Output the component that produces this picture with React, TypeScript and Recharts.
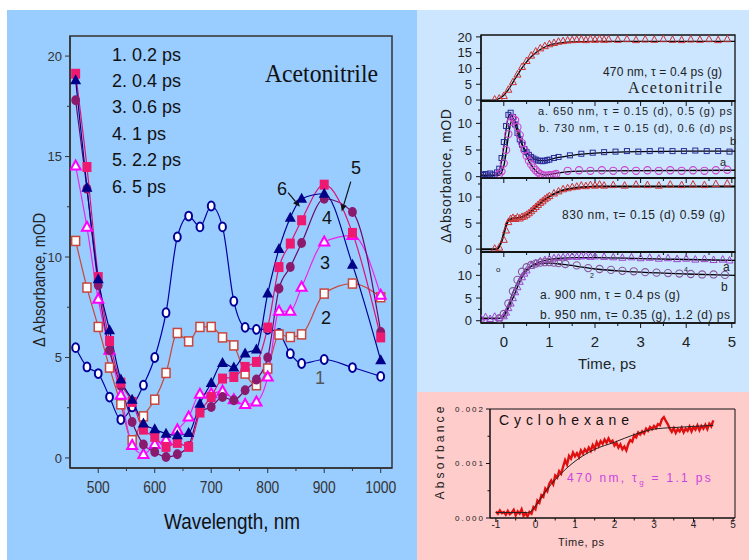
import React from 'react';
import { LineChart, Line, XAxis, YAxis, ReferenceArea, ReferenceLine } from 'recharts';

const SANS = "'Liberation Sans', Arial, Helvetica, sans-serif";
const SERIF = "'Liberation Serif', 'Times New Roman', serif";

// ---------- Left panel: transient spectra in acetonitrile ----------
const wavelengths = [460, 480, 500, 520, 540, 560, 580, 600, 620, 640, 660, 680, 700, 720, 740, 760, 780, 800, 820, 840, 860, 900, 950, 1000];
const abs02 = [5.49, 4.53, 4.2, 3.03, 1.91, 2.54, 3.62, 5.0, 7.23, 11.0, 12.04, 11.5, 12.54, 11.5, 7.8, 6.5, 6.4, 6.4, 6.2, 5.19, 4.7, 4.9, 4.5, 4.06];
const abs04 = [10.8, 8.48, 6.52, 4.5, 2.67, 0.88, 2.07, 2.9, 4.23, 6.22, 5.8, 6.52, 6.52, 6.0, 5.6, 4.2, 3.62, 4.45, 6.14, 6.02, 6.15, 8.18, 8.68, 8.0];
const abs06 = [14.53, 11.49, 7.9, 5.36, 3.12, 0.63, 0.18, 0.67, 0.9, 1.4, 2.04, 3.17, 3.2, 3.33, 2.9, 2.67, 2.79, 4.03, 7.3, 7.3, 8.5, 10.75, 11.08, 8.1];
const abs1 = [17.8, 13.4, 8.6, 5.36, 3.6, 1.79, 0.67, 0.3, 0.05, 0.18, 0.6, 2.3, 2.54, 3.03, 2.87, 3.37, 3.9, 5.0, 8.43, 9.5, 10.7, 12.9, 12.24, 6.27];
const abs22 = [19.12, 14.48, 9.0, 5.82, 3.75, 2.79, 1.41, 1.05, 0.55, 0.75, 0.55, 2.26, 3.03, 3.95, 4.03, 4.53, 4.78, 6.49, 9.5, 10.67, 11.83, 13.6, 11.2, 6.0];
const abs5 = [18.8, 13.45, 8.9, 6.35, 3.9, 2.9, 1.71, 1.43, 1.21, 1.13, 1.24, 2.7, 3.73, 4.73, 4.5, 5.2, 5.4, 8.18, 10.4, 11.96, 12.9, 13.15, 9.62, 4.86];
const legendLabels = ['1. 0.2 ps', '2. 0.4 ps', '3. 0.6 ps', '4. 1 ps', '5. 2.2 ps', '6. 5 ps'];
const leftXTicks = [500, 550, 600, 650, 700, 750, 800, 850, 900, 950, 1000];
const leftYTicks = [0, 2.5, 5, 7.5, 10, 12.5, 15, 17.5, 20];

// ---------- Right top: kinetics in acetonitrile ----------
const t470 = [-0.2, -0.1, 0, 0.1, 0.2, 0.3, 0.4, 0.5, 0.6, 0.7, 0.8, 0.9, 1.0, 1.1, 1.2, 1.3, 1.4, 1.5, 1.6, 1.7, 1.8, 1.9, 2.0, 2.1, 2.2, 2.3, 2.5, 2.7, 2.9, 3.1, 3.3, 3.5, 3.7, 3.9, 4.1, 4.3, 4.5, 4.7, 4.9];
const v470 = [0.2, 0.5, 1.3, 3.3, 5.7, 8.1, 10.5, 12.4, 14.1, 15.4, 16.4, 17.1, 17.7, 18.1, 18.5, 18.7, 18.9, 19.0, 19.1, 19.2, 19.0, 19.3, 19.1, 19.3, 19.1, 19.2, 19.1, 19.3, 19.0, 19.2, 19.1, 19.3, 19.1, 19.0, 19.2, 19.1, 19.3, 19.0, 19.3];
const fit470T = [-0.5, -0.2, -0.1, 0, 0.1, 0.2, 0.3, 0.4, 0.5, 0.6, 0.7, 0.8, 0.9, 1.0, 1.2, 1.5, 2.0, 3.0, 5.07];
const fit470V = [0, 0, 0.5, 1.5, 3.3, 5.6, 8.0, 10.2, 12.1, 13.7, 15.0, 16.0, 16.8, 17.4, 18.0, 18.4, 18.6, 18.6, 18.6];

const t730 = [-0.5, -0.45, -0.4, -0.35, -0.3, -0.25, -0.2, -0.15, -0.1, -0.05, 0, 0.05, 0.1, 0.15, 0.2, 0.25, 0.3, 0.35, 0.4, 0.45, 0.5, 0.55, 0.6, 0.65, 0.7, 0.75, 0.8, 0.85, 0.9, 0.95, 1.0, 1.1, 1.2, 1.45, 1.7, 1.95, 2.2, 2.45, 2.7, 2.95, 3.2, 3.45, 3.7, 3.95, 4.2, 4.45, 4.7, 4.95];
const v730 = [0.4, 0.3, 0.5, 0.2, 0.6, 0.4, 0.3, 0.8, 1.5, 3.5, 6.5, 9.5, 11.6, 12.0, 11.2, 9.8, 8.2, 7.0, 6.0, 5.2, 4.6, 4.1, 3.7, 3.4, 3.2, 3.0, 3.0, 2.9, 3.0, 3.1, 3.2, 3.5, 3.7, 4.0, 4.3, 4.5, 4.6, 4.7, 4.8, 4.7, 4.8, 4.9, 4.8, 4.8, 4.9, 4.8, 4.8, 4.7];
const t650 = [-0.1, -0.05, 0, 0.05, 0.1, 0.15, 0.2, 0.25, 0.3, 0.35, 0.4, 0.45, 0.5, 0.55, 0.6, 0.65, 0.7, 0.75, 0.8, 0.85, 0.9, 0.95, 1.0, 1.05, 1.1, 1.15, 1.4, 1.65, 1.9, 2.15, 2.4, 2.65, 2.9, 3.15, 3.4, 3.65, 3.9, 4.15, 4.4, 4.65, 4.9];
const v650 = [0.5, 1.0, 2.5, 5.0, 8.0, 10.3, 11.0, 10.6, 9.3, 7.8, 6.3, 5.0, 3.9, 3.0, 2.3, 1.7, 1.2, 0.8, 0.5, 0.3, 0.2, 0.2, 0.3, 0.3, 0.4, 0.5, 1.1, 1.2, 1.1, 1.2, 1.1, 1.2, 1.1, 1.2, 1.1, 1.2, 1.1, 1.2, 1.1, 1.2, 1.3];
const fit730T = [-0.5, -0.2, -0.1, 0, 0.05, 0.1, 0.15, 0.2, 0.3, 0.4, 0.5, 0.6, 0.7, 0.8, 0.9, 1.0, 1.2, 1.5, 2.0, 2.5, 3.0, 4.0, 5.07];
const fit730V = [0.3, 0.3, 1.2, 5.5, 8.8, 11.2, 11.8, 11.0, 8.3, 6.0, 4.6, 3.7, 3.2, 3.0, 3.0, 3.2, 3.6, 4.0, 4.4, 4.6, 4.7, 4.8, 4.8];
const fit650T = [-0.5, -0.1, 0, 0.1, 0.15, 0.2, 0.25, 0.3, 0.4, 0.5, 0.6, 0.7, 0.8, 0.9, 1.0, 1.2, 1.5, 2.0, 5.07];
const fit650V = [0.2, 0.3, 2.0, 7.5, 10.0, 10.8, 10.4, 9.2, 6.2, 3.8, 2.2, 1.1, 0.5, 0.3, 0.4, 0.7, 1.0, 1.1, 1.2];

const t830 = [-0.2, -0.1, 0, 0.05, 0.1, 0.15, 0.2, 0.25, 0.3, 0.35, 0.4, 0.45, 0.5, 0.55, 0.6, 0.65, 0.7, 0.75, 0.8, 0.85, 0.9, 0.95, 1.0, 1.1, 1.2, 1.3, 1.4, 1.5, 1.6, 1.7, 1.8, 1.9, 2.0, 2.1, 2.2, 2.4, 2.65, 2.9, 3.15, 3.4, 3.65, 3.9, 4.15, 4.4, 4.65, 4.9];
const v830 = [0.1, 0.3, 1.8, 3.6, 5.2, 5.8, 6.0, 5.8, 6.1, 5.9, 6.2, 6.3, 6.6, 6.9, 7.3, 7.7, 8.1, 8.5, 8.9, 9.2, 9.6, 9.9, 10.2, 10.7, 11.1, 11.5, 11.7, 11.9, 12.0, 12.2, 12.1, 12.3, 12.2, 12.4, 12.2, 12.3, 12.2, 12.4, 12.3, 12.2, 12.4, 12.3, 12.4, 12.3, 12.5, 12.6];
const fit830T = [-0.5, -0.15, -0.05, 0.05, 0.1, 0.2, 0.3, 0.4, 0.5, 0.6, 0.7, 0.8, 0.9, 1.0, 1.2, 1.4, 1.6, 1.8, 2.0, 2.5, 3.0, 5.07];
const fit830V = [0, 0, 1.5, 4.5, 5.5, 5.9, 6.0, 6.2, 6.6, 7.2, 8.0, 8.8, 9.5, 10.1, 11.0, 11.5, 11.8, 11.9, 12.0, 12.0, 12.0, 12.0];

const t900 = [-0.5, -0.4, -0.3, -0.2, -0.1, 0, 0.05, 0.1, 0.15, 0.2, 0.25, 0.3, 0.35, 0.4, 0.45, 0.5, 0.6, 0.7, 0.8, 0.9, 1.0, 1.1, 1.2, 1.3, 1.4, 1.5, 1.6, 1.7, 1.8, 1.9, 2.0, 2.2, 2.4, 2.6, 2.8, 3.0, 3.2, 3.4, 3.6, 3.8, 4.0, 4.2, 4.4, 4.6, 4.8, 4.95];
const v900 = [0.5, 0.8, 0.4, 0.9, 0.6, 1.0, 1.8, 2.8, 3.8, 5.0, 6.3, 7.4, 8.6, 9.6, 10.4, 11.1, 12.1, 12.7, 13.1, 13.4, 13.6, 13.8, 13.9, 14.0, 14.1, 14.2, 14.1, 14.2, 14.3, 14.1, 14.2, 14.1, 14.0, 13.9, 14.0, 13.8, 13.9, 13.7, 13.8, 13.6, 13.7, 13.5, 13.6, 13.4, 13.5, 13.3];
const t950 = [-0.1, 0, 0.1, 0.2, 0.3, 0.4, 0.5, 0.6, 0.7, 0.8, 0.9, 1.0, 1.1, 1.2, 1.35, 1.6, 1.85, 2.1, 2.35, 2.6, 2.85, 3.1, 3.35, 3.6, 3.85, 4.1, 4.35, 4.6, 4.85];
const v950 = [0.5, 1.5, 3.8, 6.5, 9.0, 10.8, 11.8, 12.3, 12.6, 12.8, 12.9, 12.9, 12.8, 12.7, 12.5, 12.2, 11.6, 11.4, 11.2, 11.0, 10.9, 10.7, 10.6, 10.5, 10.4, 10.3, 10.2, 10.2, 10.1];
const fit900T = [-0.5, -0.05, 0.05, 0.2, 0.4, 0.6, 0.8, 1.0, 1.3, 1.6, 2.0, 3.0, 4.0, 5.07];
const fit900V = [0.5, 0.5, 1.8, 5.0, 9.6, 12.0, 13.0, 13.5, 13.8, 13.9, 13.9, 13.7, 13.5, 13.3];
const fit950T = [-0.5, -0.05, 0.05, 0.2, 0.4, 0.6, 0.8, 1.0, 1.3, 1.6, 2.0, 2.5, 3.0, 4.0, 5.07];
const fit950V = [0.5, 0.5, 2.2, 6.2, 10.3, 12.0, 12.6, 12.7, 12.4, 12.0, 11.4, 11.0, 10.7, 10.3, 10.0];

const timeTicks = [0, 0.5, 1, 1.5, 2, 2.5, 3, 3.5, 4, 4.5, 5];

// ---------- Right bottom: cyclohexane, absorbance in units of 1e-4 ----------
const cycT = [-1, -0.95, -0.9, -0.85, -0.8, -0.75, -0.7, -0.65, -0.6, -0.55, -0.5, -0.45, -0.4, -0.35, -0.3, -0.25, -0.2, -0.15, -0.1, -0.05,
  0, 0.05, 0.1, 0.15, 0.2, 0.25, 0.3, 0.35, 0.4, 0.45, 0.5, 0.55, 0.6, 0.65, 0.7, 0.75, 0.8, 0.85, 0.9, 0.95,
  1.0, 1.05, 1.1, 1.15, 1.2, 1.25, 1.3, 1.35, 1.4, 1.45, 1.5, 1.55, 1.6, 1.65, 1.7, 1.75, 1.8, 1.85, 1.9, 1.95,
  2.0, 2.05, 2.1, 2.15, 2.2, 2.25, 2.3, 2.35, 2.4, 2.45, 2.5, 2.55, 2.6, 2.65, 2.7, 2.75, 2.8, 2.85, 2.9, 2.95,
  3.0, 3.05, 3.1, 3.15, 3.2, 3.25, 3.3, 3.35, 3.4, 3.45, 3.5, 3.55, 3.6, 3.65, 3.7, 3.75, 3.8, 3.85, 3.9, 3.95,
  4.0, 4.05, 4.1, 4.15, 4.2, 4.25, 4.3, 4.35, 4.4, 4.45, 4.5];
const cycV = [1.2, 0.8, 1.4, 0.9, 1.1, 0.6, 1.3, 0.7, 1.0, 1.5, 0.5, 1.2, 0.8, 1.6, 0.4, 0.9, 0.3, 1.1, 0.8, 2.0,
  1.6, 3.2, 2.8, 4.2, 3.9, 5.4, 4.9, 6.3, 6.9, 6.2, 7.8, 7.4, 8.6, 8.1, 9.4, 10.6, 9.8, 11.4, 10.9, 12.0,
  11.3, 11.9, 11.2, 12.4, 11.8, 12.6, 12.1, 12.9, 12.3, 13.4, 12.7, 13.9, 13.2, 14.1, 13.6, 14.4, 13.8, 14.6, 13.9, 14.2,
  13.3, 13.8, 12.9, 13.5, 12.6, 13.1, 12.4, 13.6, 14.3, 14.0, 15.2, 14.8, 15.7, 15.3, 15.9, 15.5, 16.4, 16.0, 16.7, 16.3,
  16.9, 16.5, 17.2, 17.0, 18.1, 18.5, 17.8, 17.2, 16.4, 15.8, 16.5, 15.6, 16.3, 15.9, 16.6, 15.7, 16.4, 16.0, 16.8, 15.9,
  16.7, 16.2, 17.0, 16.1, 16.9, 16.4, 17.1, 16.3, 17.3, 16.8, 17.9];
const cycFitT = [-1, -0.2, -0.1, 0, 0.2, 0.4, 0.6, 0.8, 1.0, 1.2, 1.5, 2.0, 2.5, 3.0, 3.5, 4.0, 4.5];
const cycFitV = [1.0, 1.0, 1.3, 2.2, 4.3, 6.2, 7.8, 9.2, 10.4, 11.4, 12.6, 13.9, 15.3, 16.3, 16.6, 16.8, 17.0];
const cycXTicks = [-1, -0.5, 0, 0.5, 1, 1.5, 2, 2.5, 3, 3.5, 4, 4.5, 5];
const cycYTicks = [0, 5, 10, 15, 20];

// ---------- helpers ----------
const pairs = (ts: number[], vs: number[]) => ts.map((t, i) => ({ t, v: vs[i] }));
const leftRows = wavelengths.map((wl, i) => ({ wl, a: abs02[i], b: abs04[i], c: abs06[i], d: abs1[i], e: abs22[i], f: abs5[i] }));

type TickOpts = {
  axis: 'x' | 'y'; isMajor: (v: number) => boolean; majorLen: number; minorLen: number;
  labels: boolean; fmt?: (v: number) => string; fontSize: number; gap: number; color: string;
  stroke: string; sw?: number; textLen?: (s: string) => number | undefined; adj?: string;
};
function makeTick(o: TickOpts) {
  return (props: any) => {
    const { x, y, payload, index } = props;
    const v = payload.value as number;
    const major = o.isMajor(v);
    const len = major ? o.majorLen : o.minorLen;
    const label = o.labels && major ? (o.fmt ? o.fmt(v) : String(v)) : null;
    const tl = label && o.textLen ? o.textLen(label) : undefined;
    const textProps: any = {
      fontSize: o.fontSize, fontFamily: SANS, fill: o.color,
      ...(tl ? { textLength: tl, lengthAdjust: o.adj ?? 'spacingAndGlyphs' } : {}),
    };
    if (o.axis === 'x') {
      return (
        <g key={`tx${index}`}>
          <line x1={x} x2={x} y1={y} y2={y + len} stroke={o.stroke} strokeWidth={o.sw ?? 1} />
          {label !== null && <text x={x} y={y + o.gap} textAnchor="middle" {...textProps}>{label}</text>}
        </g>
      );
    }
    return (
      <g key={`ty${index}`}>
        <line x1={x} x2={x - len} y1={y} y2={y} stroke={o.stroke} strokeWidth={o.sw ?? 1} />
        {label !== null && <text x={x - o.gap} y={y} dy="0.36em" textAnchor="end" {...textProps}>{label}</text>}
      </g>
    );
  };
}

// markers
const ellipseDot = (name: string, rx: number, ry: number, fill: string, stroke: string, sw: number) => (p: any) =>
  p.cx == null ? <g key={`${name}${p.index}`} /> :
    <ellipse key={`${name}${p.index}`} cx={p.cx} cy={p.cy} rx={rx} ry={ry} fill={fill} stroke={stroke} strokeWidth={sw} />;
const rectDot = (name: string, w: number, h: number, fill: string, stroke: string, sw: number) => (p: any) =>
  p.cx == null ? <g key={`${name}${p.index}`} /> :
    <rect key={`${name}${p.index}`} x={p.cx - w / 2} y={p.cy - h / 2} width={w} height={h} fill={fill} stroke={stroke} strokeWidth={sw} />;
const triDot = (name: string, w: number, h: number, fill: string, stroke: string, sw: number) => (p: any) =>
  p.cx == null ? <g key={`${name}${p.index}`} /> :
    <polygon key={`${name}${p.index}`}
      points={`${p.cx},${p.cy - h * 0.6} ${p.cx - w / 2},${p.cy + h * 0.4} ${p.cx + w / 2},${p.cy + h * 0.4}`}
      fill={fill} stroke={stroke} strokeWidth={sw} strokeLinejoin="miter" />;

const Arrow = (p: any) => {
  const { x1, y1, x2, y2 } = p;
  if ([x1, y1, x2, y2].some((q) => q == null)) return <g />;
  const a = Math.atan2(y2 - y1, x2 - x1);
  const L = 7, W = 3;
  const bx = x2 - L * Math.cos(a), by = y2 - L * Math.sin(a);
  const px = -Math.sin(a) * W, py = Math.cos(a) * W;
  return (
    <g>
      <line x1={x1} y1={y1} x2={bx} y2={by} stroke="#111" strokeWidth={1.2} />
      <polygon points={`${x2},${y2} ${bx + px},${by + py} ${bx - px},${by - py}`} fill="#111" />
    </g>
  );
};

// ---------- right-top subplots ----------
type Ser = { data: { t: number; v: number }[]; dot?: any; fit?: boolean; sw?: number };
type Sub = { key: string; top: number; plotH: number; domain: [number, number]; yTicks: number[]; xLabels: boolean; series: Ser[] };

const redTri = (n: string) => triDot(n, 7, 6.5, 'none', '#cc3333', 1);
const subplots: Sub[] = [
  {
    key: 's1', top: 35, plotH: 66, domain: [-0.3, 20.6], yTicks: [0, 5, 10, 15, 20], xLabels: false,
    series: [
      { data: pairs(t470, v470), dot: redTri('a470') },
      { data: pairs(fit470T, fit470V), fit: true, sw: 1.3 },
    ],
  },
  {
    key: 's2', top: 101, plotH: 77, domain: [-0.25, 14.2], yTicks: [0, 2.5, 5, 7.5, 10, 12.5], xLabels: false,
    series: [
      { data: pairs(t730, v730), dot: rectDot('b730', 5, 5, 'none', '#2b2b9a', 1) },
      { data: pairs(t650, v650), dot: ellipseDot('a650', 3.6, 3.6, 'none', '#cc44cc', 1.1) },
      { data: pairs(fit730T, fit730V), fit: true, sw: 1.3 },
      { data: pairs(fit650T, fit650V), fit: true, sw: 1.3 },
    ],
  },
  {
    key: 's3', top: 178, plotH: 74, domain: [-0.55, 13.65], yTicks: [0, 2.5, 5, 7.5, 10, 12.5], xLabels: false,
    series: [
      { data: pairs(t830, v830), dot: redTri('a830') },
      { data: pairs(fit830T, fit830V), fit: true, sw: 2 },
    ],
  },
  {
    key: 's4', top: 252, plotH: 71, domain: [-0.5, 15.15], yTicks: [0, 2.5, 5, 7.5, 10, 12.5], xLabels: true,
    series: [
      { data: pairs(t900, v900), dot: triDot('a900', 7, 6.5, 'none', '#9944cc', 1) },
      { data: pairs(t950, v950), dot: ellipseDot('b950', 3.6, 3.6, 'none', '#885599', 1.1) },
      { data: pairs(fit900T, fit900V), fit: true, sw: 1.3 },
      { data: pairs(fit950T, fit950V), fit: true, sw: 1.3 },
    ],
  },
];

const rightYTick = makeTick({ axis: 'y', isMajor: (v) => v % 5 === 0, majorLen: 5, minorLen: 3, labels: true, fontSize: 13, gap: 9, color: '#222', stroke: '#111' });
const rightXTickLab = makeTick({ axis: 'x', isMajor: (v) => Number.isInteger(v), majorLen: 5, minorLen: 3, labels: true, fontSize: 15, gap: 24, color: '#222', stroke: '#111' });
const rightXTickNo = makeTick({ axis: 'x', isMajor: (v) => Number.isInteger(v), majorLen: 5, minorLen: 3, labels: false, fontSize: 15, gap: 24, color: '#222', stroke: '#111' });

const leftXTick = makeTick({ axis: 'x', isMajor: (v) => v % 100 === 0, majorLen: 5, minorLen: 3, labels: true, fontSize: 17, gap: 25, color: '#333', stroke: '#333', textLen: (s) => (s.length === 4 ? 31 : 23) });
const leftYTick = makeTick({ axis: 'y', isMajor: (v) => v % 5 === 0, majorLen: 5, minorLen: 3, labels: true, fontSize: 13, gap: 8, color: '#333', stroke: '#333' });

const cycXTick = makeTick({ axis: 'x', isMajor: (v) => Number.isInteger(v), majorLen: 4, minorLen: 2.5, labels: true, fontSize: 10, gap: 10, color: '#222', stroke: '#111' });
const cycYTick = makeTick({ axis: 'y', isMajor: (v) => v % 10 === 0, majorLen: 4, minorLen: 2.5, labels: true, fontSize: 8, gap: 7, color: '#222', stroke: '#111', fmt: (v) => (v / 10000).toFixed(3), textLen: () => 28, adj: 'spacing' });

const T = (p: { x: number; y: number; s: React.ReactNode; size: number; anchor?: string; fill?: string; family?: string; len?: number; rot?: boolean; adj?: string }) => (
  <text x={p.x} y={p.y} fontSize={p.size} fontFamily={p.family ?? SANS} fill={p.fill ?? '#111'}
    textAnchor={(p.anchor ?? 'start') as any}
    {...(p.len ? { textLength: p.len, lengthAdjust: p.adj ?? 'spacingAndGlyphs' } : {})}
    transform={p.rot ? `rotate(-90 ${p.x} ${p.y})` : undefined}>{p.s}</text>
);

export default function App() {
  return (
    <div style={{ position: 'absolute', left: 0, top: 0, width: 749, height: 560, background: '#fff', overflow: 'hidden' }}>
      <div style={{ position: 'absolute', left: 7, top: 10, width: 410, height: 550, background: '#99ccff' }} />
      <div style={{ position: 'absolute', left: 417, top: 10, width: 332, height: 382, background: '#cce6ff' }} />
      <div style={{ position: 'absolute', left: 417, top: 392, width: 332, height: 168, background: '#ffcccc' }} />

      {/* Left chart */}
      <div style={{ position: 'absolute', left: 0, top: 0 }}>
        <LineChart width={410} height={560} data={leftRows} margin={{ top: 36, right: 18, bottom: 62, left: 0 }}>
          <XAxis dataKey="wl" type="number" domain={[450, 1020]} ticks={leftXTicks} interval={0} allowDataOverflow
            height={30} tickSize={0} tickMargin={0} tickLine={false} axisLine={{ stroke: '#333', strokeWidth: 1.5 }} tick={leftXTick} />
          <YAxis type="number" domain={[-0.5, 21]} ticks={leftYTicks} interval={0} allowDataOverflow
            width={70} tickSize={0} tickMargin={0} tickLine={false} axisLine={{ stroke: '#333', strokeWidth: 1.5 }} tick={leftYTick} />
          <ReferenceArea x1={450} x2={1020} y1={-0.5} y2={21} fill="none" stroke="#333" strokeWidth={1.5} ifOverflow="visible" />
          <Line type="monotone" dataKey="a" stroke="#0000a0" strokeWidth={1.2} dot={ellipseDot('c1', 3.4, 4.4, '#fff', '#000099', 2)} activeDot={false} isAnimationActive={false} />
          <Line type="monotone" dataKey="b" stroke="#c8463c" strokeWidth={1.2} dot={rectDot('c2', 8, 9, '#fff', '#c8463c', 1.5)} activeDot={false} isAnimationActive={false} />
          <Line type="monotone" dataKey="c" stroke="#ee22ee" strokeWidth={1.2} dot={triDot('c3', 10, 9, '#fff', '#ff00ff', 2)} activeDot={false} isAnimationActive={false} />
          <Line type="monotone" dataKey="d" stroke="#6a0a6a" strokeWidth={1.2} dot={ellipseDot('c4', 4.4, 5, '#8a1a6e', '#8a1a6e', 0)} activeDot={false} isAnimationActive={false} />
          <Line type="monotone" dataKey="e" stroke="#dd1177" strokeWidth={1.2} dot={rectDot('c5', 9, 10, '#ee1a72', '#ee1a72', 0)} activeDot={false} isAnimationActive={false} />
          <Line type="monotone" dataKey="f" stroke="#000090" strokeWidth={1.2} dot={triDot('c6', 11, 10, '#000088', '#000088', 0)} activeDot={false} isAnimationActive={false} />
          <ReferenceLine segment={[{ x: 836, y: 13.2 }, { x: 857, y: 12.5 }]} shape={Arrow} ifOverflow="visible" />
          <ReferenceLine segment={[{ x: 947, y: 13.75 }, { x: 931, y: 12.26 }]} shape={Arrow} ifOverflow="visible" />
        </LineChart>
      </div>

      {/* Right top subplots */}
      {subplots.map((sp) => (
        <div key={sp.key} style={{ position: 'absolute', left: 410, top: sp.top - 10 }}>
          <LineChart width={339} height={10 + sp.plotH + (sp.xLabels ? 30 : 10)} margin={{ top: 10, right: 14, bottom: 0, left: 0 }}>
            <XAxis dataKey="t" type="number" domain={[-0.5, 5.07]} ticks={timeTicks} interval={0} allowDataOverflow
              height={sp.xLabels ? 30 : 10} tickSize={0} tickMargin={0} tickLine={false} axisLine={{ stroke: '#111', strokeWidth: 1.3 }}
              tick={sp.xLabels ? rightXTickLab : rightXTickNo} />
            <YAxis type="number" domain={sp.domain} ticks={sp.yTicks} interval={0} allowDataOverflow width={71}
              tickSize={0} tickMargin={0} tickLine={false} axisLine={{ stroke: '#111', strokeWidth: 1.3 }} tick={rightYTick} />
            <ReferenceArea x1={-0.5} x2={5.07} y1={sp.domain[0]} y2={sp.domain[1]} fill="none" stroke="#111" strokeWidth={1.3} ifOverflow="visible" />
            {sp.series.map((s, i) =>
              s.fit ? (
                <Line key={`${sp.key}f${i}`} data={s.data} dataKey="v" type="monotone" stroke="#000" strokeWidth={s.sw ?? 1.3}
                  dot={false} activeDot={false} isAnimationActive={false} />
              ) : (
                <Line key={`${sp.key}m${i}`} data={s.data} dataKey="v" stroke="none" dot={s.dot}
                  activeDot={false} isAnimationActive={false} />
              )
            )}
          </LineChart>
        </div>
      ))}

      {/* Right bottom: cyclohexane */}
      <div style={{ position: 'absolute', left: 410, top: 399 }}>
        <LineChart width={339} height={149} margin={{ top: 10, right: 14, bottom: 0, left: 0 }}>
          <XAxis dataKey="t" type="number" domain={[-1.15, 5.05]} ticks={cycXTicks} interval={0} allowDataOverflow
            height={30} tickSize={0} tickMargin={0} tickLine={false} axisLine={{ stroke: '#111', strokeWidth: 1 }} tick={cycXTick} />
          <YAxis type="number" domain={[0, 20]} ticks={cycYTicks} interval={0} allowDataOverflow width={80}
            tickSize={0} tickMargin={0} tickLine={false} axisLine={{ stroke: '#111', strokeWidth: 1 }} tick={cycYTick} />
          <ReferenceArea x1={-1.15} x2={5.05} y1={0} y2={20} fill="none" stroke="#111" strokeWidth={1} ifOverflow="visible" />
          <Line data={pairs(cycT, cycV)} dataKey="v" type="linear" stroke="#e01010" strokeWidth={2.4} dot={false} activeDot={false} isAnimationActive={false} />
          <Line data={pairs(cycFitT, cycFitV)} dataKey="v" type="monotone" stroke="#222" strokeWidth={1} dot={false} activeDot={false} isAnimationActive={false} />
        </LineChart>
      </div>

      {/* Text overlay */}
      <svg width={749} height={560} style={{ position: 'absolute', left: 0, top: 0, pointerEvents: 'none' }}>
        {legendLabels.map((s, i) => (
          <T key={s} x={112} y={[61, 87, 113, 140, 166, 193][i]} s={s} size={18} />
        ))}
        <T x={265} y={82} s="Acetonitrile" size={26} family={SERIF} len={113} />
        <T x={282} y={194.5} s="6" size={18} anchor="middle" />
        <T x={356} y={173.5} s="5" size={18} anchor="middle" />
        <T x={327} y={223.5} s="4" size={18} anchor="middle" />
        <T x={325} y={268.5} s="3" size={18} anchor="middle" />
        <T x={326} y={323.5} s="2" size={18} anchor="middle" />
        <T x={320} y={383.5} s="1" size={18} anchor="middle" fill="#555" />
        <T x={45} y={280} s="Δ Absorbance, mOD" size={17} anchor="middle" rot len={134} fill="#222" />
        <T x={232} y={529} s="Wavelength, nm" size={22} anchor="middle" len={136} fill="#111" />

        <T x={603} y={76} s="470 nm, τ = 0.4 ps (g)" size={12} len={119} adj="spacing" fill="#222" />
        <T x={628} y={92.7} s="Acetonitrile" size={16} family={SERIF} len={94} adj="spacing" fill="#222" />
        <T x={538} y={115} s="a. 650 nm, τ = 0.15 (d), 0.5 (g) ps" size={11} len={194} adj="spacing" fill="#222" />
        <T x={539} y={132} s="b. 730 nm, τ = 0.15 (d), 0.6 (d) ps" size={11} len={193} adj="spacing" fill="#222" />
        <T x={730} y={145} s="b" size={11} fill="#222" />
        <T x={720} y={166} s="a" size={11} fill="#222" />
        <T x={562} y={219} s="830 nm, τ= 0.15 (d) 0.59 (g)" size={12} len={163} adj="spacing" fill="#222" />
        <T x={540} y={299} s="a. 900 nm, τ = 0.4 ps (g)" size={12} len={140} adj="spacing" fill="#222" />
        <T x={540} y={319} s="b. 950 nm, τ= 0.35 (g), 1.2 (d) ps" size={12} len={190} adj="spacing" fill="#222" />
        <T x={723} y={271} s="a" size={12} fill="#222" />
        <T x={721} y={291} s="b" size={12} fill="#222" />
        <T x={496} y={272} s="o" size={8} fill="#222" />
        <T x={590} y={278} s="2" size={7} fill="#222" />
        <T x={684} y={272} s="4" size={7} fill="#222" />
        <T x={451} y={176} s="ΔAbsorbance, mOD" size={14} anchor="middle" rot len={134} adj="spacing" fill="#222" />
        <T x={607} y={369} s="Time, ps" size={15} anchor="middle" len={58} adj="spacing" fill="#222" />

        <T x={499} y={425} s="Cyclohexane" size={14} len={130} adj="spacing" fill="#111" />
        <text x={567} y={482} fontSize={12} fontFamily={SANS} fill="#cc44dd" style={{ letterSpacing: 2.3 }}>
          470 nm, τ<tspan fontSize={8} dy={3}>g</tspan><tspan dy={-3}> = 1.1 ps</tspan>
        </text>
        <T x={443.5} y={453} s="Absorbance" size={12} anchor="middle" rot len={93} adj="spacing" fill="#222" />
        <T x={581} y={545.7} s="Time, ps" size={11} anchor="middle" len={46} adj="spacing" fill="#222" />
      </svg>
    </div>
  );
}
